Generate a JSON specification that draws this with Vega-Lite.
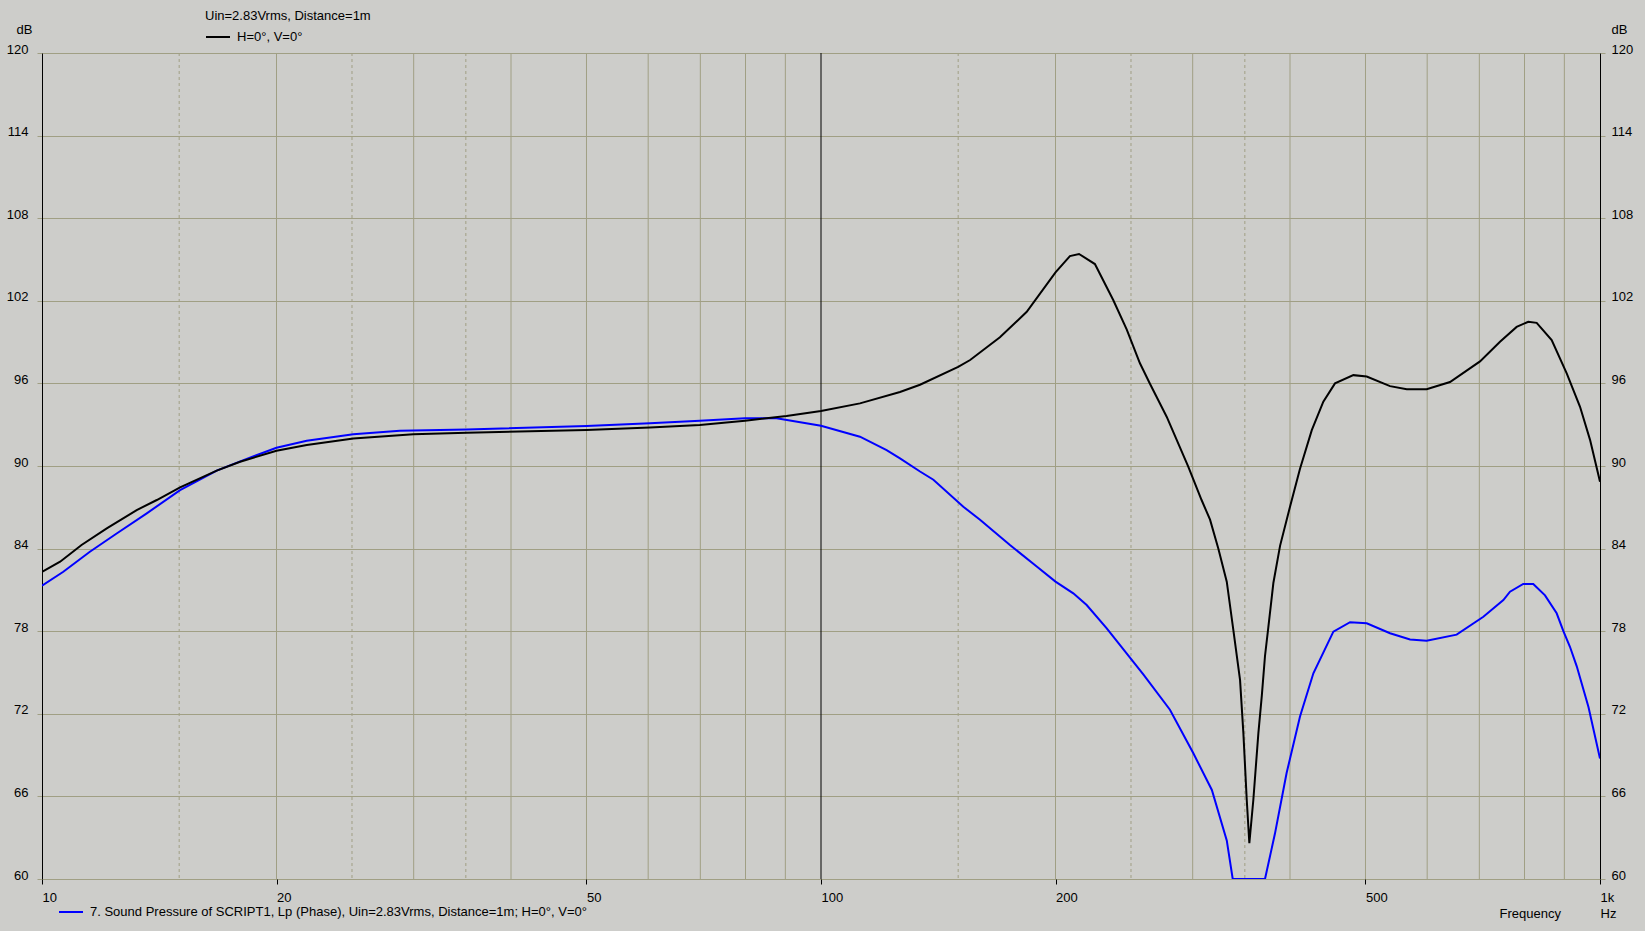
{
  "$schema": "https://vega.github.io/schema/vega-lite/v6.json",
  "width": 1558,
  "height": 826,
  "autosize": {"type": "none"},
  "padding": {"left": 42, "top": 53, "right": 45, "bottom": 52},
  "background": "#cdcdca",
  "config": {
    "view": {"stroke": null},
    "font": "Liberation Sans",
    "axis": {
      "labelFont": "Liberation Sans",
      "labelFontSize": 13,
      "labelColor": "#000000",
      "titleFont": "Liberation Sans",
      "titleFontSize": 13,
      "titleFontWeight": "normal",
      "titleColor": "#000000"
    },
    "legend": {
      "labelFont": "Liberation Sans",
      "labelFontSize": 13,
      "labelColor": "#000000",
      "titleFont": "Liberation Sans",
      "titleFontSize": 13,
      "titleFontWeight": "normal",
      "titleColor": "#000000",
      "labelLimit": 0,
      "titleLimit": 0,
      "padding": 0
    }
  },
  "datasets": {
    "black": [
      {"f": 10, "db": 82.3, "series": "H=0°, V=0°"},
      {"f": 10.55, "db": 83.05, "series": "H=0°, V=0°"},
      {"f": 11.24, "db": 84.26, "series": "H=0°, V=0°"},
      {"f": 12.11, "db": 85.47, "series": "H=0°, V=0°"},
      {"f": 13.23, "db": 86.8, "series": "H=0°, V=0°"},
      {"f": 14.04, "db": 87.53, "series": "H=0°, V=0°"},
      {"f": 15.04, "db": 88.45, "series": "H=0°, V=0°"},
      {"f": 16.76, "db": 89.66, "series": "H=0°, V=0°"},
      {"f": 17.96, "db": 90.31, "series": "H=0°, V=0°"},
      {"f": 20, "db": 91.11, "series": "H=0°, V=0°"},
      {"f": 21.87, "db": 91.53, "series": "H=0°, V=0°"},
      {"f": 25.1, "db": 92.0, "series": "H=0°, V=0°"},
      {"f": 29.97, "db": 92.3, "series": "H=0°, V=0°"},
      {"f": 35.1, "db": 92.42, "series": "H=0°, V=0°"},
      {"f": 50, "db": 92.61, "series": "H=0°, V=0°"},
      {"f": 60.3, "db": 92.8, "series": "H=0°, V=0°"},
      {"f": 69.9, "db": 92.98, "series": "H=0°, V=0°"},
      {"f": 79.9, "db": 93.29, "series": "H=0°, V=0°"},
      {"f": 90.3, "db": 93.63, "series": "H=0°, V=0°"},
      {"f": 100, "db": 93.99, "series": "H=0°, V=0°"},
      {"f": 112.2, "db": 94.55, "series": "H=0°, V=0°"},
      {"f": 126.3, "db": 95.38, "series": "H=0°, V=0°"},
      {"f": 134, "db": 95.9, "series": "H=0°, V=0°"},
      {"f": 150, "db": 97.2, "series": "H=0°, V=0°"},
      {"f": 155.4, "db": 97.7, "series": "H=0°, V=0°"},
      {"f": 169.7, "db": 99.35, "series": "H=0°, V=0°"},
      {"f": 183.7, "db": 101.2, "series": "H=0°, V=0°"},
      {"f": 200, "db": 104.07, "series": "H=0°, V=0°"},
      {"f": 208.7, "db": 105.25, "series": "H=0°, V=0°"},
      {"f": 214.4, "db": 105.4, "series": "H=0°, V=0°"},
      {"f": 224.7, "db": 104.67, "series": "H=0°, V=0°"},
      {"f": 237.2, "db": 102.06, "series": "H=0°, V=0°"},
      {"f": 246.9, "db": 99.9, "series": "H=0°, V=0°"},
      {"f": 256.7, "db": 97.46, "series": "H=0°, V=0°"},
      {"f": 264.5, "db": 95.96, "series": "H=0°, V=0°"},
      {"f": 277.8, "db": 93.58, "series": "H=0°, V=0°"},
      {"f": 296.1, "db": 89.95, "series": "H=0°, V=0°"},
      {"f": 308, "db": 87.53, "series": "H=0°, V=0°"},
      {"f": 315.8, "db": 86.1, "series": "H=0°, V=0°"},
      {"f": 323.6, "db": 84.0, "series": "H=0°, V=0°"},
      {"f": 331.8, "db": 81.6, "series": "H=0°, V=0°"},
      {"f": 338.3, "db": 78.1, "series": "H=0°, V=0°"},
      {"f": 345.1, "db": 74.45, "series": "H=0°, V=0°"},
      {"f": 348.5, "db": 70.6, "series": "H=0°, V=0°"},
      {"f": 352, "db": 65.74, "series": "H=0°, V=0°"},
      {"f": 354.7, "db": 62.6, "series": "H=0°, V=0°"},
      {"f": 358.9, "db": 65.74, "series": "H=0°, V=0°"},
      {"f": 364.3, "db": 70.6, "series": "H=0°, V=0°"},
      {"f": 368, "db": 73.3, "series": "H=0°, V=0°"},
      {"f": 371.5, "db": 76.2, "series": "H=0°, V=0°"},
      {"f": 375.2, "db": 78.3, "series": "H=0°, V=0°"},
      {"f": 380.8, "db": 81.5, "series": "H=0°, V=0°"},
      {"f": 388.4, "db": 84.2, "series": "H=0°, V=0°"},
      {"f": 400, "db": 87.04, "series": "H=0°, V=0°"},
      {"f": 412, "db": 89.8, "series": "H=0°, V=0°"},
      {"f": 426.6, "db": 92.6, "series": "H=0°, V=0°"},
      {"f": 441.4, "db": 94.67, "series": "H=0°, V=0°"},
      {"f": 456.9, "db": 96.0, "series": "H=0°, V=0°"},
      {"f": 482.4, "db": 96.6, "series": "H=0°, V=0°"},
      {"f": 501.8, "db": 96.5, "series": "H=0°, V=0°"},
      {"f": 537.6, "db": 95.8, "series": "H=0°, V=0°"},
      {"f": 564.9, "db": 95.57, "series": "H=0°, V=0°"},
      {"f": 599, "db": 95.57, "series": "H=0°, V=0°"},
      {"f": 641.9, "db": 96.1, "series": "H=0°, V=0°"},
      {"f": 701.4, "db": 97.6, "series": "H=0°, V=0°"},
      {"f": 744.1, "db": 99.03, "series": "H=0°, V=0°"},
      {"f": 781.6, "db": 100.1, "series": "H=0°, V=0°"},
      {"f": 809, "db": 100.48, "series": "H=0°, V=0°"},
      {"f": 829.3, "db": 100.4, "series": "H=0°, V=0°"},
      {"f": 866.9, "db": 99.15, "series": "H=0°, V=0°"},
      {"f": 906.3, "db": 96.73, "series": "H=0°, V=0°"},
      {"f": 942.7, "db": 94.3, "series": "H=0°, V=0°"},
      {"f": 971, "db": 91.9, "series": "H=0°, V=0°"},
      {"f": 1000, "db": 88.86, "series": "H=0°, V=0°"}
    ],
    "blue": [
      {"f": 10, "db": 81.3, "series": "7. Sound Pressure of SCRIPT1, Lp (Phase), Uin=2.83Vrms, Distance=1m; H=0°, V=0°"},
      {"f": 10.65, "db": 82.32, "series": "7. Sound Pressure of SCRIPT1, Lp (Phase), Uin=2.83Vrms, Distance=1m; H=0°, V=0°"},
      {"f": 11.52, "db": 83.77, "series": "7. Sound Pressure of SCRIPT1, Lp (Phase), Uin=2.83Vrms, Distance=1m; H=0°, V=0°"},
      {"f": 12.47, "db": 85.1, "series": "7. Sound Pressure of SCRIPT1, Lp (Phase), Uin=2.83Vrms, Distance=1m; H=0°, V=0°"},
      {"f": 13.63, "db": 86.56, "series": "7. Sound Pressure of SCRIPT1, Lp (Phase), Uin=2.83Vrms, Distance=1m; H=0°, V=0°"},
      {"f": 15.04, "db": 88.25, "series": "7. Sound Pressure of SCRIPT1, Lp (Phase), Uin=2.83Vrms, Distance=1m; H=0°, V=0°"},
      {"f": 16.76, "db": 89.66, "series": "7. Sound Pressure of SCRIPT1, Lp (Phase), Uin=2.83Vrms, Distance=1m; H=0°, V=0°"},
      {"f": 18.14, "db": 90.43, "series": "7. Sound Pressure of SCRIPT1, Lp (Phase), Uin=2.83Vrms, Distance=1m; H=0°, V=0°"},
      {"f": 20, "db": 91.33, "series": "7. Sound Pressure of SCRIPT1, Lp (Phase), Uin=2.83Vrms, Distance=1m; H=0°, V=0°"},
      {"f": 21.87, "db": 91.84, "series": "7. Sound Pressure of SCRIPT1, Lp (Phase), Uin=2.83Vrms, Distance=1m; H=0°, V=0°"},
      {"f": 25.1, "db": 92.3, "series": "7. Sound Pressure of SCRIPT1, Lp (Phase), Uin=2.83Vrms, Distance=1m; H=0°, V=0°"},
      {"f": 28.8, "db": 92.56, "series": "7. Sound Pressure of SCRIPT1, Lp (Phase), Uin=2.83Vrms, Distance=1m; H=0°, V=0°"},
      {"f": 35.1, "db": 92.66, "series": "7. Sound Pressure of SCRIPT1, Lp (Phase), Uin=2.83Vrms, Distance=1m; H=0°, V=0°"},
      {"f": 50, "db": 92.9, "series": "7. Sound Pressure of SCRIPT1, Lp (Phase), Uin=2.83Vrms, Distance=1m; H=0°, V=0°"},
      {"f": 60.3, "db": 93.1, "series": "7. Sound Pressure of SCRIPT1, Lp (Phase), Uin=2.83Vrms, Distance=1m; H=0°, V=0°"},
      {"f": 69.9, "db": 93.29, "series": "7. Sound Pressure of SCRIPT1, Lp (Phase), Uin=2.83Vrms, Distance=1m; H=0°, V=0°"},
      {"f": 79.9, "db": 93.46, "series": "7. Sound Pressure of SCRIPT1, Lp (Phase), Uin=2.83Vrms, Distance=1m; H=0°, V=0°"},
      {"f": 87.7, "db": 93.46, "series": "7. Sound Pressure of SCRIPT1, Lp (Phase), Uin=2.83Vrms, Distance=1m; H=0°, V=0°"},
      {"f": 100, "db": 92.93, "series": "7. Sound Pressure of SCRIPT1, Lp (Phase), Uin=2.83Vrms, Distance=1m; H=0°, V=0°"},
      {"f": 112.2, "db": 92.13, "series": "7. Sound Pressure of SCRIPT1, Lp (Phase), Uin=2.83Vrms, Distance=1m; H=0°, V=0°"},
      {"f": 121.4, "db": 91.16, "series": "7. Sound Pressure of SCRIPT1, Lp (Phase), Uin=2.83Vrms, Distance=1m; H=0°, V=0°"},
      {"f": 126.3, "db": 90.56, "series": "7. Sound Pressure of SCRIPT1, Lp (Phase), Uin=2.83Vrms, Distance=1m; H=0°, V=0°"},
      {"f": 134, "db": 89.6, "series": "7. Sound Pressure of SCRIPT1, Lp (Phase), Uin=2.83Vrms, Distance=1m; H=0°, V=0°"},
      {"f": 139.4, "db": 89.0, "series": "7. Sound Pressure of SCRIPT1, Lp (Phase), Uin=2.83Vrms, Distance=1m; H=0°, V=0°"},
      {"f": 152.3, "db": 87.04, "series": "7. Sound Pressure of SCRIPT1, Lp (Phase), Uin=2.83Vrms, Distance=1m; H=0°, V=0°"},
      {"f": 160, "db": 86.1, "series": "7. Sound Pressure of SCRIPT1, Lp (Phase), Uin=2.83Vrms, Distance=1m; H=0°, V=0°"},
      {"f": 174.8, "db": 84.26, "series": "7. Sound Pressure of SCRIPT1, Lp (Phase), Uin=2.83Vrms, Distance=1m; H=0°, V=0°"},
      {"f": 189.2, "db": 82.7, "series": "7. Sound Pressure of SCRIPT1, Lp (Phase), Uin=2.83Vrms, Distance=1m; H=0°, V=0°"},
      {"f": 200, "db": 81.6, "series": "7. Sound Pressure of SCRIPT1, Lp (Phase), Uin=2.83Vrms, Distance=1m; H=0°, V=0°"},
      {"f": 210.8, "db": 80.75, "series": "7. Sound Pressure of SCRIPT1, Lp (Phase), Uin=2.83Vrms, Distance=1m; H=0°, V=0°"},
      {"f": 219.3, "db": 79.9, "series": "7. Sound Pressure of SCRIPT1, Lp (Phase), Uin=2.83Vrms, Distance=1m; H=0°, V=0°"},
      {"f": 232.7, "db": 78.2, "series": "7. Sound Pressure of SCRIPT1, Lp (Phase), Uin=2.83Vrms, Distance=1m; H=0°, V=0°"},
      {"f": 259.4, "db": 74.85, "series": "7. Sound Pressure of SCRIPT1, Lp (Phase), Uin=2.83Vrms, Distance=1m; H=0°, V=0°"},
      {"f": 280.5, "db": 72.3, "series": "7. Sound Pressure of SCRIPT1, Lp (Phase), Uin=2.83Vrms, Distance=1m; H=0°, V=0°"},
      {"f": 300.6, "db": 69.13, "series": "7. Sound Pressure of SCRIPT1, Lp (Phase), Uin=2.83Vrms, Distance=1m; H=0°, V=0°"},
      {"f": 317.5, "db": 66.47, "series": "7. Sound Pressure of SCRIPT1, Lp (Phase), Uin=2.83Vrms, Distance=1m; H=0°, V=0°"},
      {"f": 331.8, "db": 62.8, "series": "7. Sound Pressure of SCRIPT1, Lp (Phase), Uin=2.83Vrms, Distance=1m; H=0°, V=0°"},
      {"f": 337.7, "db": 60, "series": "7. Sound Pressure of SCRIPT1, Lp (Phase), Uin=2.83Vrms, Distance=1m; H=0°, V=0°"},
      {"f": 371.5, "db": 60, "series": "7. Sound Pressure of SCRIPT1, Lp (Phase), Uin=2.83Vrms, Distance=1m; H=0°, V=0°"},
      {"f": 382.6, "db": 63.3, "series": "7. Sound Pressure of SCRIPT1, Lp (Phase), Uin=2.83Vrms, Distance=1m; H=0°, V=0°"},
      {"f": 396, "db": 67.7, "series": "7. Sound Pressure of SCRIPT1, Lp (Phase), Uin=2.83Vrms, Distance=1m; H=0°, V=0°"},
      {"f": 412, "db": 71.8, "series": "7. Sound Pressure of SCRIPT1, Lp (Phase), Uin=2.83Vrms, Distance=1m; H=0°, V=0°"},
      {"f": 428.6, "db": 74.94, "series": "7. Sound Pressure of SCRIPT1, Lp (Phase), Uin=2.83Vrms, Distance=1m; H=0°, V=0°"},
      {"f": 454.7, "db": 77.97, "series": "7. Sound Pressure of SCRIPT1, Lp (Phase), Uin=2.83Vrms, Distance=1m; H=0°, V=0°"},
      {"f": 477.7, "db": 78.65, "series": "7. Sound Pressure of SCRIPT1, Lp (Phase), Uin=2.83Vrms, Distance=1m; H=0°, V=0°"},
      {"f": 501.8, "db": 78.57, "series": "7. Sound Pressure of SCRIPT1, Lp (Phase), Uin=2.83Vrms, Distance=1m; H=0°, V=0°"},
      {"f": 537.6, "db": 77.85, "series": "7. Sound Pressure of SCRIPT1, Lp (Phase), Uin=2.83Vrms, Distance=1m; H=0°, V=0°"},
      {"f": 570.4, "db": 77.4, "series": "7. Sound Pressure of SCRIPT1, Lp (Phase), Uin=2.83Vrms, Distance=1m; H=0°, V=0°"},
      {"f": 599, "db": 77.3, "series": "7. Sound Pressure of SCRIPT1, Lp (Phase), Uin=2.83Vrms, Distance=1m; H=0°, V=0°"},
      {"f": 654.6, "db": 77.75, "series": "7. Sound Pressure of SCRIPT1, Lp (Phase), Uin=2.83Vrms, Distance=1m; H=0°, V=0°"},
      {"f": 708.4, "db": 79.05, "series": "7. Sound Pressure of SCRIPT1, Lp (Phase), Uin=2.83Vrms, Distance=1m; H=0°, V=0°"},
      {"f": 751.5, "db": 80.26, "series": "7. Sound Pressure of SCRIPT1, Lp (Phase), Uin=2.83Vrms, Distance=1m; H=0°, V=0°"},
      {"f": 766.4, "db": 80.87, "series": "7. Sound Pressure of SCRIPT1, Lp (Phase), Uin=2.83Vrms, Distance=1m; H=0°, V=0°"},
      {"f": 797, "db": 81.43, "series": "7. Sound Pressure of SCRIPT1, Lp (Phase), Uin=2.83Vrms, Distance=1m; H=0°, V=0°"},
      {"f": 821, "db": 81.43, "series": "7. Sound Pressure of SCRIPT1, Lp (Phase), Uin=2.83Vrms, Distance=1m; H=0°, V=0°"},
      {"f": 850, "db": 80.6, "series": "7. Sound Pressure of SCRIPT1, Lp (Phase), Uin=2.83Vrms, Distance=1m; H=0°, V=0°"},
      {"f": 879.8, "db": 79.3, "series": "7. Sound Pressure of SCRIPT1, Lp (Phase), Uin=2.83Vrms, Distance=1m; H=0°, V=0°"},
      {"f": 897.4, "db": 78.0, "series": "7. Sound Pressure of SCRIPT1, Lp (Phase), Uin=2.83Vrms, Distance=1m; H=0°, V=0°"},
      {"f": 915, "db": 76.87, "series": "7. Sound Pressure of SCRIPT1, Lp (Phase), Uin=2.83Vrms, Distance=1m; H=0°, V=0°"},
      {"f": 933.6, "db": 75.45, "series": "7. Sound Pressure of SCRIPT1, Lp (Phase), Uin=2.83Vrms, Distance=1m; H=0°, V=0°"},
      {"f": 966.5, "db": 72.5, "series": "7. Sound Pressure of SCRIPT1, Lp (Phase), Uin=2.83Vrms, Distance=1m; H=0°, V=0°"},
      {"f": 1000, "db": 68.75, "series": "7. Sound Pressure of SCRIPT1, Lp (Phase), Uin=2.83Vrms, Distance=1m; H=0°, V=0°"}
    ],
    "gridSolid": [
      {"f": 20}, {"f": 30}, {"f": 40}, {"f": 50}, {"f": 60}, {"f": 70}, {"f": 80}, {"f": 90},
      {"f": 200}, {"f": 300}, {"f": 400}, {"f": 500}, {"f": 600}, {"f": 700}, {"f": 800}, {"f": 900}
    ],
    "gridDashed": [
      {"f": 15}, {"f": 25}, {"f": 35}, {"f": 150}, {"f": 250}, {"f": 350}
    ],
    "gridCenter": [
      {"f": 100}
    ]
  },
  "layer": [
    {
      "data": {"name": "gridSolid"},
      "mark": {"type": "rule", "color": "#a09f84", "strokeWidth": 1},
      "encoding": {
        "x": {"field": "f", "type": "quantitative", "scale": {"type": "log", "domain": [10, 1000], "nice": false}, "axis": null}
      }
    },
    {
      "data": {"name": "gridDashed"},
      "mark": {"type": "rule", "color": "#a09f84", "strokeWidth": 1, "strokeDash": [3, 3]},
      "encoding": {
        "x": {"field": "f", "type": "quantitative", "scale": {"type": "log", "domain": [10, 1000], "nice": false}, "axis": null}
      }
    },
    {
      "data": {"name": "gridCenter"},
      "mark": {"type": "rule", "color": "#000000", "strokeWidth": 1},
      "encoding": {
        "x": {"field": "f", "type": "quantitative", "scale": {"type": "log", "domain": [10, 1000], "nice": false}, "axis": null}
      }
    },
    {
      "data": {"name": "blue"},
      "mark": {"type": "line", "strokeWidth": 2, "clip": true},
      "encoding": {
        "x": {
          "field": "f", "type": "quantitative",
          "scale": {"type": "log", "domain": [10, 1000], "nice": false},
          "axis": {
            "orient": "bottom",
            "values": [10, 20, 50, 100, 200, 500, 1000],
            "labelExpr": "datum.value >= 1000 ? '1k' : format(datum.value, 'd')",
            "labelAlign": "left",
            "labelBaseline": "middle",
            "labelPadding": 13,
            "labelFlush": false,
            "labelOverlap": false,
            "ticks": true,
            "tickSize": 5,
            "tickColor": "#000000",
            "domain": false,
            "grid": false,
            "title": "Frequency",
            "titleAlign": "left",
            "titleBaseline": "middle",
            "titleAnchor": null,
            "titleX": 1457,
            "titleY": 34
          }
        },
        "y": {
          "field": "db", "type": "quantitative",
          "scale": {"domain": [60, 120], "nice": false, "zero": false},
          "axis": {
            "orient": "left",
            "values": [60, 66, 72, 78, 84, 90, 96, 102, 108, 114, 120],
            "grid": true,
            "gridColor": "#a09f84",
            "gridWidth": 1,
            "gridOpacity": 1,
            "tickColor": "#a09f84",
            "tickSize": 5,
            "domain": true,
            "domainColor": "#000000",
            "domainWidth": 1,
            "labelAlign": "right",
            "labelBaseline": "alphabetic",
            "labelPadding": 9,
            "labelFlush": false,
            "labelOverlap": false,
            "title": "dB",
            "titleAngle": 0,
            "titleAlign": "left",
            "titleBaseline": "middle",
            "titleAnchor": null,
            "titleX": -26,
            "titleY": -24
          }
        },
        "color": {
          "field": "series", "type": "nominal",
          "scale": {"range": ["#0000ff"]},
          "legend": {
            "orient": "none",
            "legendX": 16,
            "legendY": 846,
            "title": null,
            "symbolType": "stroke",
            "symbolSize": 576,
            "symbolStrokeWidth": 2,
            "labelOffset": 6
          }
        }
      }
    },
    {
      "data": {"name": "black"},
      "mark": {"type": "line", "strokeWidth": 2, "clip": true},
      "encoding": {
        "x": {
          "field": "f", "type": "quantitative",
          "scale": {"type": "log", "domain": [10, 1000], "nice": false},
          "axis": {
            "orient": "bottom",
            "values": [10, 20, 50, 100, 200, 500, 1000],
            "labels": false,
            "ticks": false,
            "domain": false,
            "grid": false,
            "title": "Hz",
            "titleAlign": "left",
            "titleBaseline": "middle",
            "titleAnchor": null,
            "titleX": 1558,
            "titleY": 34
          }
        },
        "y": {
          "field": "db", "type": "quantitative",
          "scale": {"domain": [60, 120], "nice": false, "zero": false},
          "axis": {
            "orient": "right",
            "values": [60, 66, 72, 78, 84, 90, 96, 102, 108, 114, 120],
            "grid": false,
            "tickColor": "#a09f84",
            "tickSize": 5,
            "domain": true,
            "domainColor": "#000000",
            "domainWidth": 1,
            "labelAlign": "left",
            "labelBaseline": "alphabetic",
            "labelPadding": 6,
            "labelFlush": false,
            "labelOverlap": false,
            "title": "dB",
            "titleAngle": 0,
            "titleAlign": "left",
            "titleBaseline": "middle",
            "titleAnchor": null,
            "titleX": 11,
            "titleY": -24
          }
        },
        "color": {
          "field": "series", "type": "nominal",
          "scale": {"range": ["#000000"]},
          "legend": {
            "orient": "none",
            "legendX": 163,
            "legendY": -43,
            "title": "Uin=2.83Vrms, Distance=1m",
            "titlePadding": 1,
            "symbolType": "stroke",
            "symbolSize": 576,
            "symbolStrokeWidth": 2,
            "labelOffset": 6
          }
        }
      }
    }
  ],
  "resolve": {
    "scale": {"color": "independent"},
    "axis": {"x": "independent", "y": "independent"}
  }
}
